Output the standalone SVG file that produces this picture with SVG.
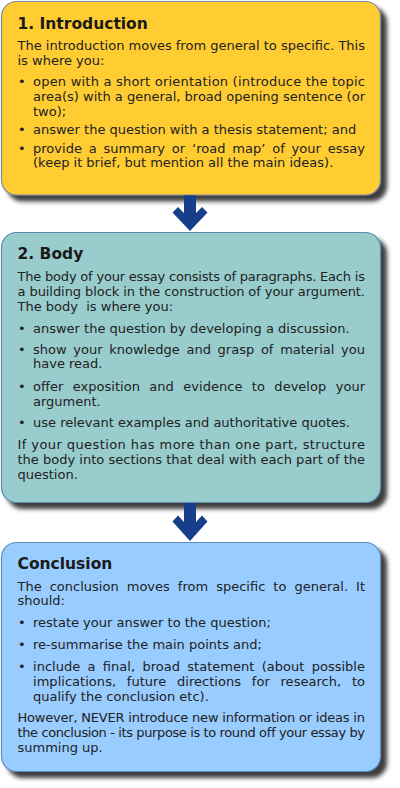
<svg xmlns="http://www.w3.org/2000/svg" width="400" height="788" viewBox="0 0 400 788">
<defs>
<filter id="shadow" x="-10%" y="-10%" width="130%" height="130%">
<feGaussianBlur in="SourceAlpha" stdDeviation="2.2" result="b"/>
<feOffset in="b" dx="6" dy="6" result="o"/>
<feFlood flood-color="#2a2a2a" flood-opacity="0.9"/>
<feComposite in2="o" operator="in" result="s"/>
<feMerge><feMergeNode in="s"/><feMergeNode in="SourceGraphic"/></feMerge>
</filter>
</defs>
<style>
.box{stroke-width:1.2;filter:url(#shadow)}
.b1{fill:#FFCC33;stroke:#7d8aa3}
.b2{fill:#99CCCC;stroke:#5b8ab5}
.b3{fill:#99CCFF;stroke:#5b8ac5}
.t{font-family:"DejaVu Sans","Liberation Sans",sans-serif;font-size:13px;fill:#222}
.h{font-family:"DejaVu Sans","Liberation Sans",sans-serif;font-size:15.5px;font-weight:bold;fill:#1a1a1a}
.arrow{fill:#163E8A}
</style>
<g id="node-intro">
<rect class="box b1" x="1.5" y="1.5" width="379" height="193.5" rx="15" ry="15"/>
<text class="h" x="17.5" y="29">1. Introduction</text>
<text class="t" x="17.5" y="50" textLength="347.5" lengthAdjust="spacing">The introduction moves from general to specific. This</text>
<text class="t" x="17.5" y="65.3">is where you:</text>
<text class="t" x="18" y="85.7">•</text>
<text class="t" x="33" y="85.7" textLength="332" lengthAdjust="spacing">open with a short orientation (introduce the topic</text>
<text class="t" x="33" y="100.7" textLength="332" lengthAdjust="spacing">area(s) with a general, broad opening sentence (or</text>
<text class="t" x="33" y="115.7">two);</text>
<text class="t" x="18" y="134.3">•</text>
<text class="t" x="33" y="134.3">answer the question with a thesis statement; and</text>
<text class="t" x="18" y="152.7">•</text>
<text class="t" x="33" y="152.7" word-spacing="2.7" textLength="332" lengthAdjust="spacing">provide a summary or ‘road map’ of your essay</text>
<text class="t" x="33" y="167.3">(keep it brief, but mention all the main ideas).</text>
</g>
<g id="node-body">
<rect class="box b2" x="1.5" y="232.5" width="379" height="270" rx="15" ry="15"/>
<text class="h" x="17.5" y="259.3">2. Body</text>
<text class="t" x="17.5" y="280.7" textLength="347.5" lengthAdjust="spacing">The body of your essay consists of paragraphs. Each is</text>
<text class="t" x="17.5" y="296" textLength="347.5" lengthAdjust="spacing">a building block in the construction of your argument.</text>
<text class="t" x="17.5" y="310.7" xml:space="preserve">The body  is where you:</text>
<text class="t" x="18" y="332.7">•</text>
<text class="t" x="33" y="332.7">answer the question by developing a discussion.</text>
<text class="t" x="18" y="354.3">•</text>
<text class="t" x="33" y="354.3" word-spacing="2.6" textLength="332" lengthAdjust="spacing">show your knowledge and grasp of material you</text>
<text class="t" x="33" y="368.3">have read.</text>
<text class="t" x="18" y="390.7">•</text>
<text class="t" x="33" y="390.7" word-spacing="5.3" textLength="332" lengthAdjust="spacing">offer exposition and evidence to develop your</text>
<text class="t" x="33" y="405.7">argument.</text>
<text class="t" x="18" y="427.3">•</text>
<text class="t" x="33" y="427.3">use relevant examples and authoritative quotes.</text>
<text class="t" x="17.5" y="449" textLength="347.5" lengthAdjust="spacing">If your question has more than one part, structure</text>
<text class="t" x="17.5" y="464" textLength="347.5" lengthAdjust="spacing">the body into sections that deal with each part of the</text>
<text class="t" x="17.5" y="479.3">question.</text>
</g>
<g id="node-conclusion">
<rect class="box b3" x="1.5" y="542.5" width="379" height="229" rx="15" ry="15"/>
<text class="h" x="17.5" y="569.3">Conclusion</text>
<text class="t" x="17.5" y="590.7" word-spacing="3.9" textLength="347.5" lengthAdjust="spacing">The conclusion moves from specific to general. It</text>
<text class="t" x="17.5" y="605.3">should:</text>
<text class="t" x="18" y="627.3">•</text>
<text class="t" x="33" y="627.3">restate your answer to the question;</text>
<text class="t" x="18" y="649">•</text>
<text class="t" x="33" y="649">re-summarise the main points and;</text>
<text class="t" x="18" y="670.7">•</text>
<text class="t" x="33" y="670.7" word-spacing="3.2" textLength="332" lengthAdjust="spacing">include a final, broad statement (about possible</text>
<text class="t" x="33" y="685.7" word-spacing="6.6" textLength="332" lengthAdjust="spacing">implications, future directions for research, to</text>
<text class="t" x="33" y="700.7">qualify the conclusion etc).</text>
<text class="t" x="17.5" y="722.3" textLength="347.5" lengthAdjust="spacing">However, NEVER introduce new information or ideas in</text>
<text class="t" x="17.5" y="737.3" textLength="347.5" lengthAdjust="spacing">the conclusion - its purpose is to round off your essay by</text>
<text class="t" x="17.5" y="752.3">summing up.</text>
</g>
<g id="connectors">
<polygon class="arrow" points="184,195.5 196,195.5 196,213 202,207 207.5,212.5 190,231 172.5,212.5 178,207 184,213"/>
<polygon class="arrow" points="184,503 196,503 196,522 202,515.5 207.5,521.5 190,541 172.5,521.5 178,515.5 184,522"/>
</g>
</svg>
